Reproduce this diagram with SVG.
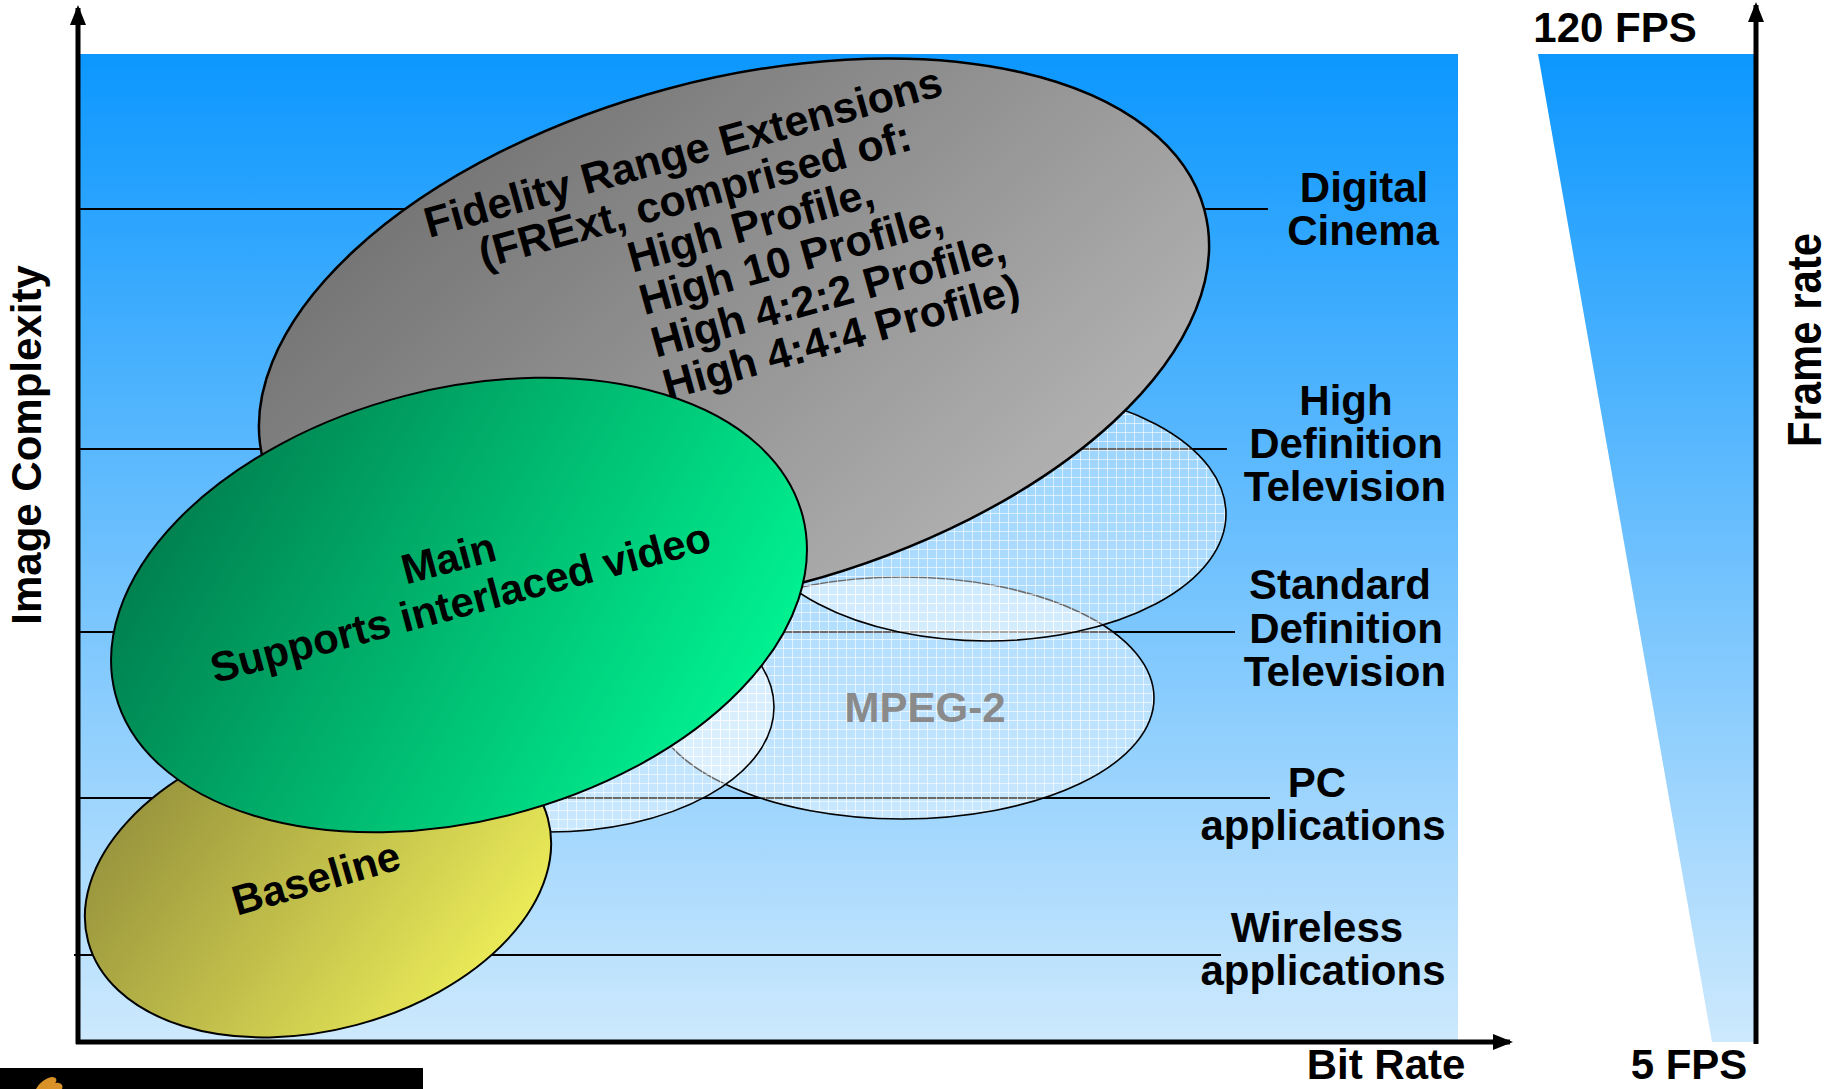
<svg xmlns="http://www.w3.org/2000/svg" width="1832" height="1089" viewBox="0 0 1832 1089">
<style>
text{font-family:"Liberation Sans",Arial,Helvetica,sans-serif;font-weight:bold;fill:#000}
.lbl{font-size:42px;text-anchor:middle}
.ell{font-size:42px}
.grid{stroke:#000;stroke-width:2;fill:none}
.axis{stroke:#000;stroke-width:5;fill:none}
.hatch{fill:url(#hatch);stroke:#000;stroke-width:1.6}
</style>
<defs>
<linearGradient id="sky" x1="0" y1="0" x2="0" y2="1">
<stop offset="0" stop-color="#0c97fe"/>
<stop offset="1" stop-color="#cde9fd"/>
</linearGradient>
<linearGradient id="gray" x1="0" y1="0" x2="1" y2="1">
<stop offset="0" stop-color="#6a6a6a"/>
<stop offset="1" stop-color="#bcbcbc"/>
</linearGradient>
<linearGradient id="green" x1="0" y1="0.2" x2="1" y2="0.8">
<stop offset="0" stop-color="#00784a"/>
<stop offset="1" stop-color="#00fa96"/>
</linearGradient>
<linearGradient id="yellow" x1="0" y1="0.1" x2="1" y2="0.9">
<stop offset="0" stop-color="#8e8a3a"/>
<stop offset="1" stop-color="#f6f65c"/>
</linearGradient>
<pattern id="hatch" width="9" height="9" patternUnits="userSpaceOnUse">
<rect width="9" height="9" fill="#ffffff" fill-opacity="0.42"/>
<path d="M0 0.5H9M0.5 0V9" stroke="#ffffff" stroke-opacity="0.6" stroke-width="1"/>
</pattern>
<marker id="arr" markerWidth="20" markerHeight="18" refX="17" refY="9" orient="auto" markerUnits="userSpaceOnUse">
<path d="M0 1L20 9L0 17Z" fill="#000"/>
</marker>
</defs>

<g id="background">
<rect x="78" y="54" width="1380" height="988" fill="url(#sky)"/>
<polygon points="1538,54 1754,54 1754,1042 1712,1042" fill="url(#sky)"/>
</g>

<g id="connectors">
<line class="grid" x1="78" y1="209" x2="1268" y2="209"/>
<line class="grid" x1="78" y1="449" x2="1227" y2="449"/>
<line class="grid" x1="78" y1="632" x2="1235" y2="632"/>
<line class="grid" x1="78" y1="798" x2="1270" y2="798"/>
<line class="grid" x1="74" y1="955" x2="1221" y2="955"/>
<line class="axis" x1="78" y1="1044" x2="78" y2="8" marker-end="url(#arr)"/>
<line class="axis" x1="76" y1="1042" x2="1510" y2="1042" marker-end="url(#arr)"/>
<line class="axis" x1="1756" y1="1044" x2="1756" y2="5" marker-end="url(#arr)"/>
</g>

<g id="mpeg2">
<ellipse class="hatch" cx="902" cy="698" rx="252" ry="121"/>
<ellipse class="hatch" cx="549" cy="707" rx="225" ry="125"/>
<ellipse class="hatch" cx="987" cy="514" rx="239" ry="127"/>
<text x="925" y="722" style="font-size:42px;text-anchor:middle;fill:#8a8a8a">MPEG-2</text>
</g>

<g id="frext">
<ellipse cx="734" cy="336" rx="487" ry="256" transform="rotate(-15 734 336)" fill="url(#gray)" stroke="#000" stroke-width="2.5"/>
<g transform="translate(734 336) rotate(-15.5)">
<text class="ell" x="0" y="-176" text-anchor="middle" style="font-size:43px">Fidelity Range Extensions</text>
<text class="ell" x="0" y="-132" text-anchor="middle" style="font-size:43px">(FRExt, comprised of:</text>
<text class="ell" x="-81" y="-88" style="font-size:43px">High Profile,</text>
<text class="ell" x="-81" y="-44" style="font-size:43px">High 10 Profile,</text>
<text class="ell" x="-81" y="0" style="font-size:43px">High 4:2:2 Profile,</text>
<text class="ell" x="-81" y="44" style="font-size:43px">High 4:4:4 Profile)</text>
</g>
</g>

<g id="baseline">
<ellipse cx="318" cy="880" rx="238" ry="150" transform="rotate(-15 318 880)" fill="url(#yellow)" stroke="#000" stroke-width="2"/>
<text class="ell" transform="translate(320 892) rotate(-16)" text-anchor="middle">Baseline</text>
</g>

<g id="main">
<ellipse cx="459" cy="605" rx="355" ry="216" transform="rotate(-14.5 459 605)" fill="url(#green)" stroke="#000" stroke-width="2"/>
<g transform="translate(461 605) rotate(-15)">
<text class="ell" x="0" y="-34" text-anchor="middle">Main</text>
<text class="ell" x="0" y="12" text-anchor="middle">Supports interlaced video</text>
</g>
</g>

<g id="labels">
<text class="lbl" x="1364" y="202">Digital</text>
<text class="lbl" x="1363" y="245">Cinema</text>
<text class="lbl" x="1346" y="415">High</text>
<text class="lbl" x="1346" y="458">Definition</text>
<text class="lbl" x="1345" y="501">Television</text>
<text class="lbl" x="1340" y="599">Standard</text>
<text class="lbl" x="1346" y="643">Definition</text>
<text class="lbl" x="1345" y="686">Television</text>
<text class="lbl" x="1317" y="797">PC</text>
<text class="lbl" x="1323" y="840">applications</text>
<text class="lbl" x="1317" y="942">Wireless</text>
<text class="lbl" x="1323" y="985">applications</text>
<text class="lbl" x="1386" y="1079">Bit Rate</text>
<text class="lbl" x="1615" y="42">120 FPS</text>
<text class="lbl" x="1689" y="1079">5 FPS</text>
<text class="lbl" transform="translate(1821 340) rotate(-90)" style="font-size:48px" textLength="214" lengthAdjust="spacingAndGlyphs">Frame rate</text>
<text class="lbl" transform="translate(41 445) rotate(-90)">Image Complexity</text>
</g>

<g id="footer">
<rect x="0" y="1068" width="423" height="21" fill="#000"/>
<path d="M36 1089 C40 1082 46 1078 52 1077 C56 1077 58 1080 55 1083 C60 1082 64 1085 62 1089 Z" fill="#d89228"/>
</g>
</svg>
